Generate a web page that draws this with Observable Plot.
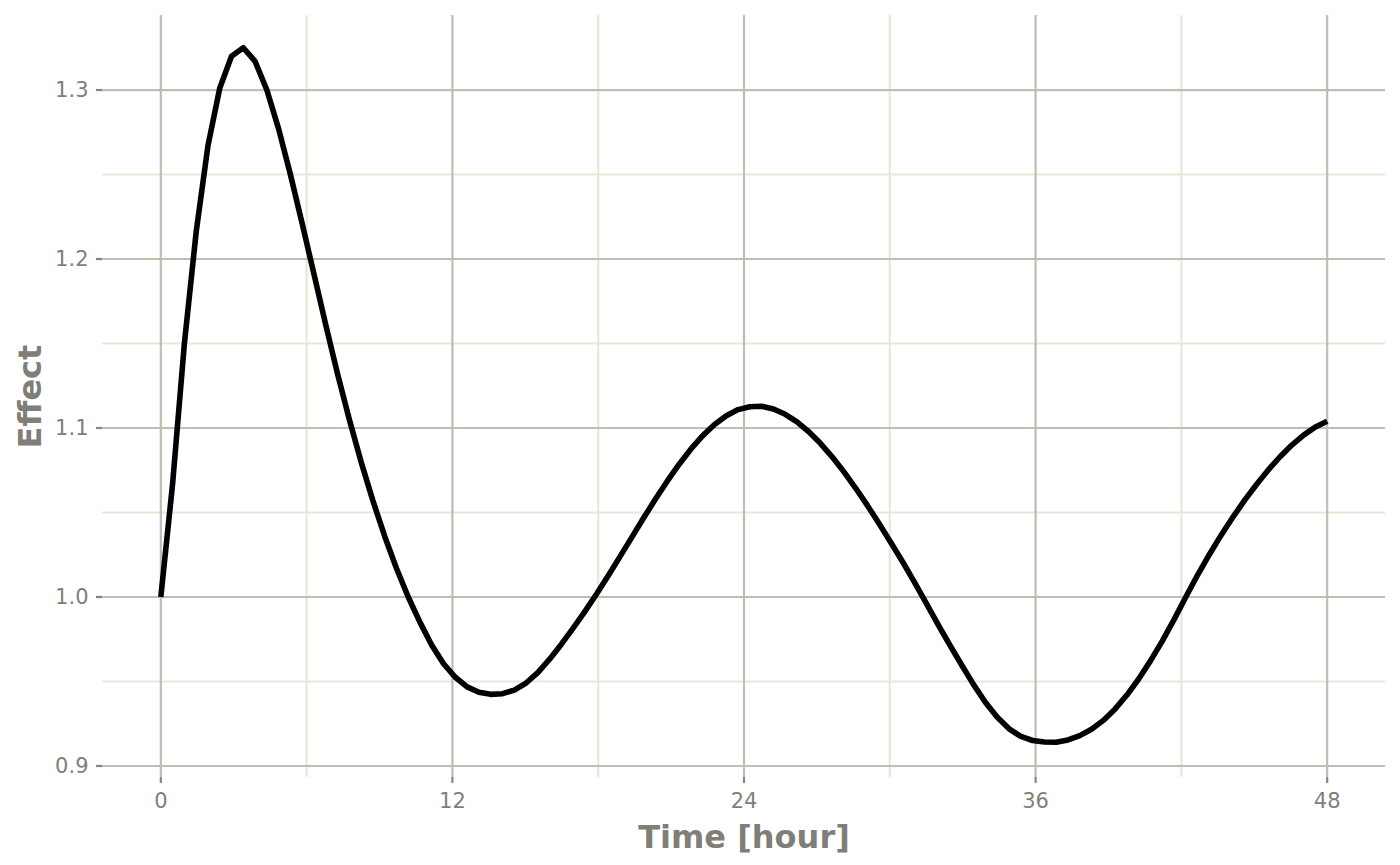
<!DOCTYPE html>
<html>
<head>
<meta charset="utf-8">
<script src="https://cdn.jsdelivr.net/npm/d3@7"></script>
<script src="https://cdn.jsdelivr.net/npm/@observablehq/plot@0.6"></script>
<style>
  html, body { margin: 0; padding: 0; background: #ffffff; }
  #chart svg { display: block; }
</style>
</head>
<body>
<div id="chart"></div>
<script>
// Time points (hours)
const timeHours = [0, 0.485, 0.970, 1.455, 1.939, 2.424, 2.909, 3.394, 3.879, 4.364,
  4.848, 5.333, 5.818, 6.303, 6.788, 7.273, 7.758, 8.242, 8.727, 9.212,
  9.697, 10.182, 10.667, 11.152, 11.636, 12.121, 12.606, 13.091, 13.576, 14.061,
  14.545, 15.030, 15.515, 16.000, 16.485, 16.970, 17.455, 17.939, 18.424, 18.909,
  19.394, 19.879, 20.364, 20.848, 21.333, 21.818, 22.303, 22.788, 23.273, 23.758,
  24.242, 24.727, 25.212, 25.697, 26.182, 26.667, 27.152, 27.636, 28.121, 28.606,
  29.091, 29.576, 30.061, 30.545, 31.030, 31.515, 32.000, 32.485, 32.970, 33.455,
  33.939, 34.424, 34.909, 35.394, 35.879, 36.364, 36.848, 37.333, 37.818, 38.303,
  38.788, 39.273, 39.758, 40.242, 40.727, 41.212, 41.697, 42.182, 42.667, 43.152,
  43.636, 44.121, 44.606, 45.091, 45.576, 46.061, 46.545, 47.030, 47.515, 48.000];

// Effect values
const effectValues = [1.000, 1.067, 1.150, 1.216, 1.267, 1.301, 1.320, 1.325, 1.317, 1.300,
  1.277, 1.250, 1.221, 1.191, 1.161, 1.132, 1.105, 1.080, 1.057, 1.036,
  1.017, 1.000, 0.985, 0.9715, 0.9605, 0.9525, 0.9468, 0.9436, 0.9424, 0.9428,
  0.9449, 0.9491, 0.9553, 0.9632, 0.9721, 0.9816, 0.9915, 1.0019, 1.0129, 1.0242,
  1.0356, 1.0470, 1.0581, 1.0687, 1.0786, 1.0876, 1.0955, 1.1021, 1.1073, 1.1109,
  1.1126, 1.1129, 1.1113, 1.1081, 1.1036, 1.0978, 1.0908, 1.0828, 1.0739, 1.0642,
  1.0539, 1.0430, 1.0318, 1.0204, 1.0084, 0.9959, 0.9834, 0.9712, 0.9595, 0.9480,
  0.9376, 0.9288, 0.9220, 0.9175, 0.9151, 0.9142, 0.9141, 0.9154, 0.9180, 0.9218,
  0.9270, 0.9338, 0.9420, 0.9515, 0.9622, 0.9739, 0.9866, 1.0000, 1.0130, 1.0252,
  1.0366, 1.0473, 1.0573, 1.0666, 1.0752, 1.0830, 1.0899, 1.0958, 1.1006, 1.1040];

// Tick / grid positions
const xMajorTicks = [0, 12, 24, 36, 48];
const xMinorTicks = [6, 18, 30, 42];
const yMajorTicks = [0.9, 1.0, 1.1, 1.2, 1.3];
const yMinorTicks = [0.95, 1.05, 1.15, 1.25];

const xTitle = "Time [hour]";
const yTitle = "Effect";

const data = timeHours.map((t, i) => ({time: t, effect: effectValues[i]}));

const majorGrid = "#bebeb2";
const minorGrid = "#e8e8d9";
const textGray = "#7f7f77";
const tickGray = "#85857d";

const chart = Plot.plot({
  width: 1400,
  height: 865,
  marginLeft: 102,
  marginRight: 15,
  marginTop: 15,
  marginBottom: 88,
  x: {domain: [-2.4, 50.4]},
  y: {domain: [0.8932, 1.3441]},
  style: {fontFamily: "DejaVu Sans", background: "#ffffff"},
  marks: [
    Plot.ruleY(yMinorTicks, {stroke: minorGrid, strokeWidth: 2.2}),
    Plot.ruleX(xMinorTicks, {stroke: minorGrid, strokeWidth: 2.2}),
    Plot.ruleY(yMajorTicks, {stroke: majorGrid, strokeWidth: 2.2}),
    Plot.ruleX(xMajorTicks, {stroke: majorGrid, strokeWidth: 2.2}),
    Plot.line(data, {x: "time", y: "effect", stroke: "#000000", strokeWidth: 5.6,
      strokeLinecap: "butt", strokeLinejoin: "round"}),
    Plot.axisX(xMajorTicks, {tickSize: 6, tickPadding: 10, stroke: tickGray, strokeWidth: 2.2,
      fill: textGray, fontSize: 21, label: null, tickFormat: d => String(d)}),
    Plot.axisY(yMajorTicks, {tickSize: 6, tickPadding: 8, stroke: tickGray, strokeWidth: 2.2,
      fill: textGray, fontSize: 21, label: null, tickFormat: d3.format(".1f")}),
    Plot.text([xTitle], {frameAnchor: "bottom", text: d => d, dy: 60, fontSize: 32,
      fontWeight: "bold", fill: textGray, lineAnchor: "middle", textAnchor: "middle"}),
    Plot.text([yTitle], {frameAnchor: "left", text: d => d, dx: -72, rotate: -90, fontSize: 32,
      fontWeight: "bold", fill: textGray, lineAnchor: "middle", textAnchor: "middle"})
  ]
});

document.getElementById("chart").appendChild(chart);
</script>
</body>
</html>
